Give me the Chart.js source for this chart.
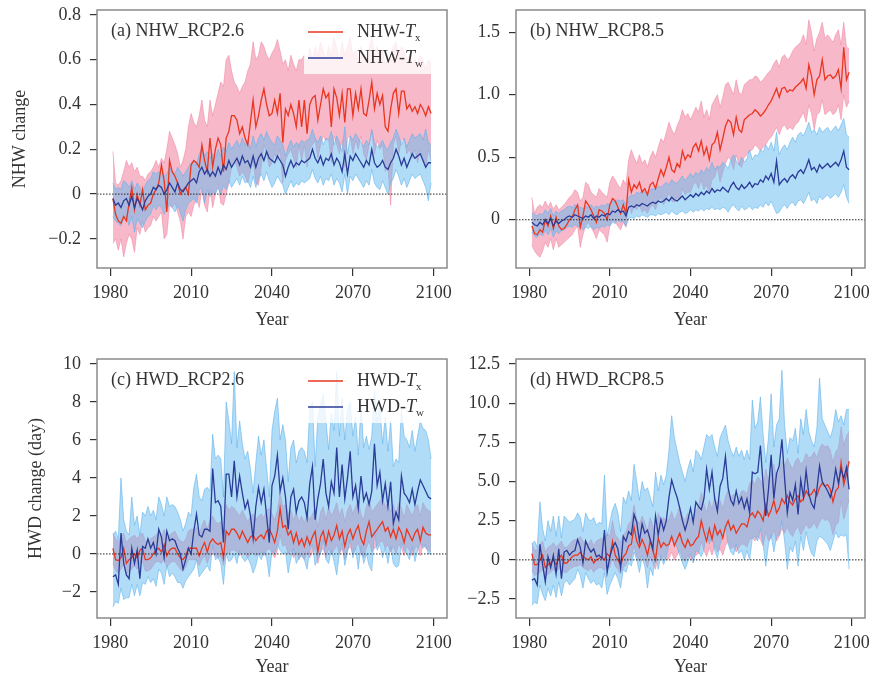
<!DOCTYPE html>
<html lang="en">
<head>
<meta charset="UTF-8" />
<title>NHW / HWD change</title>
<script src="https://cdn.jsdelivr.net/npm/chart.js@4.4.1/dist/chart.umd.min.js"></script>
<style>
  body { margin: 0; background: #fff; }
  #wrap { position: relative; width: 872px; height: 679px; overflow: hidden; }
  canvas { position: absolute; }
</style>
</head>
<body>
<div id="wrap">
  <canvas id="panelA" width="460" height="340" style="left:0;top:0"></canvas>
  <canvas id="panelB" width="422" height="340" style="left:450px;top:0"></canvas>
  <canvas id="panelC" width="460" height="340" style="left:0;top:340px"></canvas>
  <canvas id="panelD" width="422" height="340" style="left:450px;top:340px"></canvas>
</div>
<script>
// years 1981-2099
const years = Array.from({ length: 119 }, (_, i) => 1981 + i);
const xTicks = [1980, 2010, 2040, 2070, 2100];

// (a) NHW RCP2.6
const aTx = [
  -0.02,-0.09,-0.12,-0.13,-0.10,-0.12,-0.04,0.03,-0.07,0.00,
  -0.05,0.02,-0.07,-0.05,-0.04,0.00,0.02,0.05,0.13,0.06,
  -0.08,0.15,0.10,0.08,0.05,0.00,0.02,0.03,0.00,0.13,
  0.15,0.14,0.12,0.22,0.15,0.10,0.25,0.12,0.20,0.25,
  0.22,0.10,0.25,0.28,0.35,0.35,0.33,0.27,0.30,0.25,
  0.22,0.32,0.42,0.30,0.35,0.42,0.47,0.40,0.35,0.36,
  0.42,0.36,0.45,0.23,0.38,0.35,0.40,0.36,0.30,0.42,
  0.30,0.42,0.27,0.40,0.43,0.44,0.33,0.40,0.47,0.43,
  0.45,0.30,0.47,0.43,0.35,0.45,0.32,0.47,0.47,0.35,
  0.45,0.38,0.47,0.36,0.35,0.42,0.50,0.38,0.45,0.40,
  0.44,0.30,0.28,0.38,0.45,0.47,0.36,0.46,0.46,0.38,
  0.40,0.37,0.39,0.36,0.40,0.38,0.35,0.39,0.36];
const aTxHigh = [
  0.19,0.05,0.04,0.06,0.10,0.15,0.12,0.14,0.10,0.12,
  0.08,0.08,0.06,0.09,0.10,0.12,0.15,0.12,0.16,0.14,
  0.20,0.28,0.25,0.22,0.18,0.12,0.15,0.20,0.30,0.36,
  0.32,0.30,0.35,0.42,0.33,0.30,0.42,0.35,0.40,0.45,
  0.50,0.48,0.60,0.62,0.55,0.50,0.48,0.45,0.48,0.50,
  0.55,0.58,0.68,0.60,0.62,0.68,0.66,0.62,0.60,0.63,
  0.65,0.69,0.64,0.58,0.60,0.55,0.62,0.58,0.55,0.60,
  0.60,0.62,0.58,0.65,0.60,0.66,0.62,0.68,0.64,0.60,
  0.66,0.62,0.70,0.65,0.60,0.68,0.62,0.66,0.70,0.62,
  0.64,0.60,0.66,0.62,0.60,0.65,0.70,0.62,0.66,0.62,
  0.64,0.58,0.60,0.62,0.66,0.68,0.62,0.66,0.64,0.60,
  0.62,0.58,0.60,0.58,0.62,0.60,0.56,0.60,0.58];
const aTxLow = [
  -0.22,-0.20,-0.25,-0.20,-0.28,-0.22,-0.18,-0.20,-0.26,-0.15,
  -0.18,-0.12,-0.17,-0.15,-0.14,-0.10,-0.12,-0.10,-0.08,-0.20,
  -0.18,-0.05,-0.06,-0.04,-0.08,-0.12,-0.20,-0.10,-0.08,-0.10,
  -0.05,-0.02,-0.06,0.02,-0.05,-0.08,0.02,-0.06,0.00,0.05,
  -0.04,-0.05,0.00,0.05,0.12,0.15,0.12,0.08,0.10,0.08,
  0.05,0.10,0.15,0.05,0.04,0.12,0.22,0.18,0.12,0.14,
  0.18,0.15,0.20,0.05,0.15,0.18,0.20,0.16,0.12,0.22,
  0.15,0.22,0.12,0.20,0.22,0.24,0.16,0.22,0.26,0.24,
  0.25,0.14,0.26,0.22,0.18,0.24,0.12,0.25,0.26,0.18,
  0.24,0.20,0.26,0.18,0.15,0.22,0.28,0.18,0.24,0.20,
  0.22,0.10,0.12,-0.05,0.22,0.26,0.18,0.24,0.25,0.18,
  0.20,0.16,0.20,0.14,0.20,0.16,0.12,0.20,0.15];
const aTw = [
  -0.02,-0.05,-0.04,-0.06,-0.03,-0.02,-0.05,-0.01,-0.06,-0.02,
  -0.04,-0.07,-0.03,-0.01,0.00,0.03,0.02,0.04,0.03,0.00,
  0.02,0.05,0.03,0.01,0.05,0.02,0.01,0.03,0.05,0.06,
  0.07,0.05,0.10,0.12,0.09,0.11,0.08,0.10,0.08,0.12,
  0.09,0.13,0.11,0.15,0.12,0.14,0.16,0.13,0.17,0.14,
  0.15,0.12,0.17,0.12,0.16,0.18,0.15,0.19,0.16,0.15,
  0.14,0.17,0.15,0.13,0.08,0.12,0.15,0.12,0.14,0.13,
  0.15,0.14,0.15,0.16,0.20,0.16,0.14,0.17,0.13,0.16,
  0.15,0.18,0.13,0.16,0.14,0.10,0.18,0.09,0.17,0.15,
  0.18,0.16,0.14,0.12,0.15,0.13,0.20,0.14,0.12,0.13,
  0.15,0.12,0.11,0.14,0.16,0.20,0.17,0.13,0.16,0.12,
  0.15,0.18,0.16,0.17,0.18,0.15,0.12,0.14,0.14];
const aTwHigh = [
  0.05,0.02,0.03,0.02,0.06,0.05,0.03,0.06,0.02,0.05,
  0.03,0.01,0.04,0.06,0.07,0.10,0.09,0.10,0.10,0.08,
  0.09,0.12,0.10,0.09,0.12,0.10,0.08,0.10,0.12,0.14,
  0.15,0.13,0.18,0.20,0.17,0.19,0.16,0.18,0.16,0.20,
  0.17,0.21,0.19,0.23,0.20,0.22,0.24,0.21,0.25,0.22,
  0.24,0.20,0.26,0.21,0.25,0.27,0.24,0.28,0.25,0.23,
  0.22,0.26,0.24,0.22,0.17,0.21,0.24,0.21,0.23,0.22,
  0.24,0.23,0.24,0.25,0.29,0.25,0.23,0.26,0.22,0.25,
  0.24,0.28,0.22,0.26,0.23,0.19,0.30,0.18,0.26,0.24,
  0.27,0.25,0.23,0.21,0.24,0.22,0.29,0.23,0.21,0.22,
  0.24,0.21,0.20,0.23,0.25,0.29,0.26,0.22,0.25,0.21,
  0.24,0.27,0.25,0.26,0.27,0.24,0.29,0.23,0.22];
const aTwLow = [
  -0.10,-0.12,-0.13,-0.14,-0.11,-0.10,-0.14,-0.10,-0.17,-0.11,
  -0.13,-0.15,-0.12,-0.10,-0.09,-0.05,-0.07,-0.05,-0.06,-0.09,
  -0.07,-0.04,-0.06,-0.08,-0.05,-0.08,-0.12,-0.07,-0.04,-0.03,
  -0.02,-0.04,0.02,0.03,-0.04,0.02,-0.01,0.01,0.00,0.03,
  0.00,0.04,0.02,0.06,0.03,0.05,0.07,0.04,0.08,0.05,
  0.06,0.03,0.08,0.03,0.07,0.09,0.06,0.10,0.06,0.03,
  0.05,0.08,0.06,0.04,0.00,0.03,0.06,0.03,0.05,0.04,
  0.06,0.05,0.06,0.07,0.11,0.07,0.05,0.08,0.04,0.07,
  0.06,0.09,0.04,0.07,0.05,0.01,0.09,0.00,0.08,0.06,
  0.09,0.07,0.05,0.03,0.06,0.04,0.11,0.05,0.03,0.02,
  0.06,0.03,0.00,0.05,0.07,0.11,0.08,0.04,0.07,0.03,
  0.06,0.09,0.07,0.08,0.09,0.06,0.03,-0.03,0.05];

// (b) NHW RCP8.5
const bTx = [
  -0.05,-0.11,-0.12,-0.08,-0.10,0.00,-0.05,0.03,-0.07,0.02,
  -0.05,-0.08,-0.07,-0.04,0.00,0.02,0.08,0.12,-0.06,0.03,
  0.15,0.12,0.08,0.03,-0.02,0.08,0.07,0.05,0.00,0.12,
  0.17,0.15,0.10,0.05,0.12,0.05,0.32,0.22,0.28,0.25,
  0.30,0.22,0.25,0.20,0.28,0.30,0.25,0.33,0.40,0.35,
  0.42,0.50,0.40,0.38,0.45,0.42,0.55,0.48,0.52,0.50,
  0.58,0.61,0.55,0.63,0.52,0.58,0.48,0.60,0.62,0.70,
  0.56,0.65,0.75,0.80,0.78,0.68,0.82,0.72,0.70,0.80,
  0.82,0.84,0.85,0.88,0.86,0.83,0.85,0.88,0.92,0.95,
  1.00,1.05,0.98,1.05,1.06,1.02,1.04,1.03,1.06,1.08,
  1.10,1.13,1.05,1.24,1.15,1.00,1.12,1.15,1.28,1.12,
  1.15,1.16,1.13,1.15,1.20,1.05,1.38,1.12,1.18];
const bTxHigh = [
  0.18,0.05,0.10,0.12,0.10,0.15,0.10,0.14,0.08,0.12,
  0.08,0.10,0.12,0.15,0.18,0.20,0.24,0.22,0.15,0.18,
  0.30,0.28,0.22,0.20,0.18,0.25,0.22,0.20,0.18,0.30,
  0.35,0.32,0.28,0.25,0.32,0.28,0.48,0.56,0.50,0.45,
  0.52,0.45,0.48,0.42,0.50,0.55,0.50,0.58,0.65,0.62,
  0.70,0.78,0.72,0.68,0.75,0.80,0.88,0.82,0.85,0.80,
  0.85,0.90,0.86,0.95,0.82,0.88,0.80,0.92,0.96,1.00,
  0.90,0.98,1.08,1.10,1.05,1.00,1.12,1.02,1.00,1.08,
  1.10,1.12,1.12,1.15,1.14,1.10,1.12,1.15,1.18,1.20,
  1.25,1.28,1.22,1.30,1.32,1.28,1.30,1.35,1.38,1.40,
  1.42,1.48,1.40,1.60,1.50,1.35,1.45,1.50,1.58,1.45,
  1.48,1.45,1.42,1.48,1.52,1.40,1.58,1.38,1.37];
const bTxLow = [
  -0.20,-0.25,-0.28,-0.30,-0.25,-0.18,-0.22,-0.15,-0.24,-0.15,
  -0.22,-0.20,-0.18,-0.16,-0.14,-0.12,-0.08,-0.05,-0.22,-0.12,
  -0.05,-0.02,-0.06,-0.10,-0.15,-0.08,-0.10,-0.12,-0.18,-0.05,
  0.00,-0.02,-0.05,-0.08,-0.02,-0.06,0.15,0.05,0.10,0.08,
  0.12,0.06,0.08,0.05,0.10,0.12,0.08,0.15,0.18,0.12,
  0.16,0.22,0.15,0.14,0.18,0.16,0.25,0.20,0.22,0.22,
  0.28,0.30,0.25,0.32,0.24,0.28,0.22,0.32,0.34,0.42,
  0.30,0.38,0.45,0.50,0.48,0.40,0.52,0.44,0.42,0.50,
  0.52,0.55,0.56,0.60,0.58,0.55,0.58,0.60,0.64,0.66,
  0.70,0.74,0.68,0.74,0.76,0.72,0.74,0.72,0.76,0.78,
  0.82,0.86,0.78,0.92,0.85,0.72,0.84,0.86,0.96,0.84,
  0.86,0.88,0.84,0.86,0.92,0.80,1.00,0.90,0.95];
const bTw = [
  -0.02,-0.04,-0.05,-0.02,-0.04,0.00,-0.03,0.01,-0.05,-0.01,
  -0.03,-0.01,0.00,0.02,0.03,0.02,0.04,0.03,0.02,0.01,
  0.03,0.02,0.04,0.01,0.03,0.02,0.04,0.03,0.05,0.04,
  0.07,0.06,0.08,0.06,0.07,0.03,0.10,0.11,0.10,0.12,
  0.11,0.13,0.12,0.11,0.13,0.14,0.13,0.15,0.14,0.15,
  0.17,0.15,0.18,0.16,0.15,0.17,0.19,0.16,0.18,0.20,
  0.18,0.21,0.19,0.22,0.20,0.23,0.21,0.25,0.22,0.24,
  0.23,0.26,0.24,0.22,0.27,0.30,0.26,0.24,0.28,0.25,
  0.27,0.30,0.26,0.29,0.28,0.32,0.30,0.35,0.32,0.37,
  0.30,0.47,0.28,0.31,0.33,0.30,0.34,0.36,0.33,0.38,
  0.40,0.37,0.42,0.48,0.40,0.42,0.38,0.44,0.41,0.43,
  0.45,0.42,0.44,0.46,0.43,0.48,0.55,0.42,0.40];
const bTwHigh = [
  0.06,0.04,0.03,0.05,0.04,0.08,0.05,0.09,0.03,0.07,
  0.05,0.07,0.08,0.10,0.11,0.10,0.12,0.11,0.10,0.09,
  0.11,0.10,0.12,0.09,0.11,0.10,0.12,0.11,0.13,0.12,
  0.15,0.14,0.16,0.15,0.16,0.12,0.18,0.20,0.19,0.22,
  0.21,0.23,0.22,0.21,0.24,0.25,0.24,0.27,0.26,0.28,
  0.30,0.28,0.32,0.30,0.29,0.32,0.35,0.31,0.34,0.37,
  0.34,0.38,0.36,0.40,0.37,0.42,0.39,0.46,0.40,0.43,
  0.42,0.46,0.44,0.41,0.48,0.52,0.47,0.44,0.50,0.46,
  0.49,0.56,0.48,0.52,0.51,0.56,0.54,0.60,0.56,0.62,
  0.55,0.70,0.52,0.57,0.60,0.56,0.62,0.66,0.62,0.68,
  0.70,0.67,0.72,0.78,0.70,0.72,0.68,0.74,0.70,0.72,
  0.74,0.70,0.72,0.75,0.71,0.76,0.81,0.68,0.66];
const bTwLow = [
  -0.10,-0.13,-0.14,-0.11,-0.13,-0.08,-0.12,-0.07,-0.14,-0.09,
  -0.11,-0.09,-0.08,-0.06,-0.05,-0.06,-0.04,-0.05,-0.06,-0.08,
  -0.06,-0.07,-0.05,-0.08,-0.06,-0.07,-0.05,-0.06,-0.04,-0.05,
  -0.02,-0.03,0.00,-0.02,-0.01,-0.05,0.01,0.02,0.01,0.03,
  0.02,0.04,0.03,0.02,0.04,0.04,0.03,0.05,0.04,0.05,
  0.06,0.04,0.07,0.05,0.04,0.06,0.07,0.05,0.06,0.08,
  0.06,0.08,0.07,0.09,0.07,0.09,0.08,0.10,0.08,0.09,
  0.08,0.10,0.09,0.06,0.10,0.12,0.09,0.07,0.11,0.08,
  0.09,0.11,0.08,0.10,0.09,0.12,0.10,0.14,0.11,0.15,
  0.10,0.05,0.06,0.10,0.12,0.09,0.13,0.14,0.11,0.15,
  0.16,0.13,0.17,0.22,0.15,0.17,0.13,0.19,0.16,0.18,
  0.20,0.17,0.19,0.21,0.18,0.22,0.28,0.18,0.13];

// (c) HWD RCP2.6
const cTx = [
  0.3,-0.3,-0.35,-0.2,0.3,-0.5,-0.3,-0.2,0.0,-0.2,
  0.2,0.3,-0.3,-0.3,-0.2,0.0,0.2,0.3,0.1,0.5,
  -0.1,0.2,0.3,0.3,0.0,-0.2,-0.3,-0.1,0.3,0.3,
  0.3,0.3,-0.1,0.3,0.6,0.1,0.6,0.8,0.6,0.5,
  0.6,-0.2,1.2,1.0,1.3,1.3,1.1,0.8,1.2,0.9,
  0.6,0.9,1.0,0.7,0.9,1.0,0.8,1.2,1.3,1.0,
  0.6,1.2,2.4,1.4,1.5,1.0,1.2,0.6,1.1,0.5,
  0.8,0.4,0.9,0.5,0.9,1.2,0.1,0.9,1.2,0.5,
  1.2,0.7,1.0,1.5,0.8,1.2,0.4,1.0,1.3,0.8,
  1.2,1.5,0.8,0.5,1.2,1.7,0.9,1.1,1.3,1.5,
  1.7,1.2,1.4,0.9,1.3,0.8,1.4,1.1,0.6,1.3,
  1.0,0.7,1.1,1.3,0.7,1.4,1.1,1.0,1.0];
const cTxHigh = [
  1.1,0.8,0.7,0.9,1.1,0.6,0.8,0.9,1.0,0.8,
  1.0,1.1,0.7,0.6,0.8,0.9,1.0,1.1,0.9,1.3,
  0.8,1.0,1.1,1.2,0.9,0.7,0.6,0.8,1.2,1.3,
  1.3,1.4,1.0,1.5,1.8,1.3,1.8,2.0,1.7,1.6,
  1.7,1.0,2.6,2.3,2.5,2.4,2.2,2.0,2.3,2.0,
  1.7,2.0,2.1,1.8,2.0,2.1,1.9,2.3,2.4,2.1,
  1.8,2.3,3.2,2.5,2.6,2.1,2.3,1.8,2.2,1.7,
  2.0,1.6,2.1,1.8,2.1,2.4,1.4,2.2,2.5,1.8,
  2.5,2.0,2.3,2.7,2.0,2.4,1.7,2.3,2.6,2.1,
  2.5,2.8,2.1,1.8,2.5,2.9,2.2,2.4,2.6,2.8,
  2.9,2.5,2.7,2.2,2.6,2.1,2.7,2.4,1.9,2.6,
  2.3,2.0,2.4,2.6,2.0,2.7,2.4,2.3,2.2];
const cTxLow = [
  -0.5,-0.9,-1.0,-0.8,-0.5,-1.1,-0.9,-0.8,-0.6,-0.8,
  -0.5,-0.4,-0.9,-0.9,-0.8,-0.6,-0.4,-0.4,-0.5,-0.2,
  -0.7,-0.5,-0.4,-0.4,-0.6,-0.8,-0.9,-0.7,-0.3,-0.3,
  -0.3,-0.3,-0.6,-0.3,-0.1,-0.5,-0.1,0.0,-0.1,-0.2,
  -0.1,-0.6,0.1,0.0,0.2,0.2,0.1,-0.1,0.1,0.0,
  -0.2,0.0,0.1,-0.1,0.0,0.1,-0.1,0.2,0.3,0.1,
  -0.2,0.2,1.0,0.4,0.5,0.0,0.2,-0.2,0.1,-0.3,
  0.0,-0.3,0.1,-0.2,0.1,0.3,-0.5,0.1,0.3,-0.2,
  0.3,0.0,0.2,0.5,0.0,0.3,-0.3,0.2,0.4,0.0,
  0.3,0.6,0.0,-0.2,0.3,0.7,0.1,0.3,0.4,0.6,
  0.7,0.3,0.5,0.1,0.4,0.0,0.5,0.3,-0.1,0.4,
  0.2,-0.1,0.3,0.4,-0.1,0.5,0.3,0.2,0.1];
const cTw = [
  -1.2,-1.1,-1.6,1.1,-0.5,-1.1,-1.3,0.3,-0.5,0.2,
  -1.3,0.4,0.3,0.8,0.3,0.6,0.0,1.3,0.9,-0.2,
  1.2,0.7,0.8,0.7,0.3,0.0,-0.8,-0.3,0.3,0.0,
  1.2,2.1,1.0,0.9,1.3,1.3,1.2,4.5,2.7,2.8,
  2.5,0.6,4.2,4.2,3.0,4.9,3.0,4.1,3.2,2.4,
  2.8,2.0,0.8,2.5,3.5,2.7,3.4,2.0,0.6,3.6,
  4.1,5.2,3.3,4.0,3.0,1.3,3.0,3.4,2.2,2.8,
  3.0,2.7,1.9,3.7,4.6,1.8,2.9,3.7,5.0,3.2,
  2.5,3.8,3.2,5.6,3.0,4.7,2.9,4.0,5.4,3.0,
  3.6,2.4,4.1,2.8,3.2,2.6,3.3,5.8,3.6,4.3,
  2.8,3.7,2.5,3.8,1.6,2.2,1.8,4.1,3.2,3.0,
  2.7,3.4,2.6,3.3,3.9,3.6,3.3,3.0,2.9];
const cTwHigh = [
  1.0,1.2,0.8,4.0,1.8,1.2,1.0,3.0,1.5,2.0,
  1.0,2.2,2.0,2.5,2.0,2.3,1.8,3.0,2.6,2.0,
  3.0,2.5,2.6,2.5,2.2,1.8,1.2,1.6,2.2,2.0,
  3.5,4.2,3.0,2.8,3.4,3.5,3.3,6.3,5.0,5.2,
  5.0,3.0,8.0,7.0,5.8,9.6,5.6,7.0,5.8,5.0,
  5.4,4.5,3.2,4.8,6.2,5.2,6.0,4.5,3.0,6.5,
  7.5,8.2,6.0,6.8,6.0,3.8,5.6,6.0,4.8,5.4,
  5.6,5.4,4.8,7.6,8.0,4.6,7.2,7.8,8.4,7.0,
  5.5,7.4,6.5,9.6,6.2,8.2,6.0,7.6,8.0,6.2,
  7.2,5.2,7.8,5.6,6.2,5.5,6.2,8.6,7.0,7.8,
  5.8,7.2,5.4,7.0,4.6,5.0,4.8,7.6,6.2,6.0,
  5.6,6.5,5.4,6.2,7.0,6.6,6.5,6.0,5.0];
const cTwLow = [
  -2.8,-2.5,-2.6,-1.8,-2.4,-2.3,-2.3,-1.6,-2.2,-1.6,
  -2.2,-1.5,-1.6,-1.2,-1.5,-1.3,-1.7,-0.8,-1.0,-1.6,
  -0.6,-1.2,-1.0,-1.2,-1.5,-1.5,-1.8,-1.4,-1.2,-1.0,
  -0.8,-0.3,-1.2,-1.0,-0.8,-0.6,-0.9,0.5,-0.3,-0.2,
  -0.5,-1.6,0.0,-0.4,-0.3,0.0,-0.5,0.2,-0.2,-0.4,
  -0.2,-0.5,-1.0,-0.6,0.0,-0.3,0.1,-0.2,-1.2,0.2,
  0.0,0.5,0.2,0.0,0.1,-1.0,-0.2,0.3,-0.5,-0.2,
  -0.1,-0.3,-0.8,0.2,0.5,-0.6,-0.2,0.0,0.8,-0.3,
  -0.5,0.2,-0.4,-1.1,0.0,0.6,-0.6,0.1,0.8,-0.2,
  0.3,-0.8,0.4,-0.5,0.0,-0.6,-0.9,1.2,0.2,0.5,
  -0.2,0.3,-0.5,0.4,-0.5,-0.7,-0.6,0.6,0.2,0.0,
  -0.3,0.4,-0.4,0.2,0.6,0.3,0.5,0.0,0.0];

// (d) HWD RCP8.5
const dTx = [
  0.4,-0.3,-0.3,0.0,0.3,-0.5,-0.3,-0.2,0.0,-0.3,
  0.1,0.3,-0.2,-0.2,0.0,0.2,0.3,0.3,0.5,0.2,
  0.1,0.0,0.2,-0.2,0.0,0.1,0.2,0.0,0.4,0.2,
  1.2,0.3,0.0,-0.3,0.2,0.4,0.9,1.0,2.1,1.2,
  0.8,1.3,0.9,0.3,1.2,0.6,0.0,1.4,0.8,1.1,
  0.9,1.0,1.5,0.9,1.3,1.7,1.1,0.8,1.3,0.9,
  1.0,1.3,1.5,2.5,1.8,1.2,2.0,1.3,2.2,1.6,
  1.9,1.4,2.1,2.5,1.9,2.2,1.7,2.0,2.3,2.3,
  2.1,2.8,3.0,2.7,3.1,2.9,2.5,3.5,2.8,3.2,
  3.8,3.0,3.3,3.9,3.6,4.1,3.7,3.5,3.9,4.1,
  3.7,3.9,4.4,4.1,4.2,4.5,4.1,4.6,4.9,4.7,
  4.8,4.5,3.7,4.4,4.6,6.2,4.8,5.5,6.3];
const dTxHigh = [
  1.1,0.6,0.7,1.0,1.2,0.5,0.8,0.9,1.1,0.8,
  1.0,1.2,0.8,0.8,1.0,1.2,1.3,1.3,1.5,1.2,
  1.1,1.0,1.3,0.9,1.2,1.3,1.4,1.2,1.7,1.5,
  2.5,1.6,1.4,1.1,1.6,1.8,2.3,2.5,3.5,2.6,
  2.3,2.8,2.4,1.8,2.7,2.2,1.6,3.0,2.4,2.7,
  2.5,2.6,3.1,2.5,2.9,3.4,2.8,2.5,3.0,2.6,
  2.8,3.1,3.4,4.3,3.6,3.0,3.8,3.2,4.1,3.5,
  3.8,3.3,4.0,4.5,3.9,4.2,3.7,4.0,4.4,4.4,
  4.2,4.9,5.1,4.8,5.3,5.1,4.7,5.8,5.0,5.5,
  6.1,5.3,5.6,6.3,6.0,6.5,6.1,5.8,6.3,6.5,
  6.1,6.3,6.8,6.5,6.6,6.9,6.5,7.1,7.4,7.2,
  7.3,7.0,6.2,6.9,7.1,8.5,7.3,7.9,8.2];
const dTxLow = [
  -0.7,-1.0,-0.9,-0.8,-0.6,-1.1,-0.9,-0.8,-0.6,-0.8,
  -0.6,-0.4,-0.8,-0.8,-0.6,-0.5,-0.4,-0.4,-0.3,-0.5,
  -0.6,-0.7,-0.5,-0.8,-0.6,-0.5,-0.5,-0.7,-0.3,-0.5,
  0.2,-0.4,-0.6,-0.9,-0.5,-0.3,0.0,0.1,0.9,0.2,
  -0.1,0.3,0.0,-0.5,0.2,-0.2,-0.6,0.4,0.0,0.2,
  0.0,0.1,0.5,0.0,0.3,0.6,0.1,-0.1,0.3,0.0,
  0.1,0.3,0.4,1.2,0.6,0.2,0.8,0.3,0.9,0.5,
  0.7,0.3,0.9,1.2,0.7,0.9,0.5,0.8,1.0,1.0,
  0.8,1.3,1.4,1.2,1.5,1.3,0.9,1.8,1.2,1.4,
  1.9,1.2,1.5,2.0,1.7,2.1,1.7,1.5,1.9,2.1,
  1.6,1.9,2.3,2.0,2.1,2.4,2.0,2.4,2.7,2.5,
  2.6,2.3,1.6,2.2,2.4,3.8,2.6,3.2,3.8];
const dTw = [
  -1.3,-1.2,-1.6,1.0,-0.3,-1.4,0.2,-0.5,0.3,-0.9,
  0.7,-1.2,0.5,0.6,0.3,0.5,0.6,1.3,0.8,-0.2,
  1.2,0.8,0.5,0.7,0.2,0.3,0.1,1.9,-0.8,0.2,
  0.8,1.1,0.7,-0.5,1.5,1.2,1.8,1.6,2.9,2.4,
  1.2,2.3,1.7,1.9,1.3,0.7,2.8,1.6,2.6,1.9,
  2.5,4.0,5.1,4.5,4.0,3.3,2.5,1.9,2.5,3.3,
  2.4,3.7,3.4,3.2,3.9,5.8,4.5,5.6,3.9,3.1,
  4.7,5.2,6.6,4.6,3.8,3.5,4.4,3.6,4.0,3.3,
  3.9,3.0,5.6,5.5,5.6,7.3,4.8,2.8,4.5,6.7,
  3.9,5.5,6.0,7.7,5.2,3.0,4.3,3.8,4.8,2.9,
  5.1,4.0,5.7,4.2,3.6,3.3,4.5,6.0,5.0,4.7,
  4.4,4.0,4.6,5.8,4.9,5.8,5.2,5.9,4.5];
const dTwHigh = [
  1.0,1.2,0.8,3.7,2.0,1.2,2.5,1.8,2.8,1.5,
  2.8,1.4,2.8,2.6,2.4,2.5,2.6,3.0,2.7,1.8,
  3.0,2.6,2.5,2.7,2.2,2.4,2.3,5.4,1.5,2.4,
  3.2,3.6,3.0,1.8,4.0,3.6,4.4,3.8,6.1,5.0,
  3.8,5.0,4.4,4.6,4.0,3.4,5.6,4.4,5.4,4.8,
  5.4,7.0,9.2,7.8,7.0,6.2,5.6,5.0,5.8,6.4,
  5.6,7.0,6.8,6.4,7.2,8.0,7.8,8.0,7.2,6.6,
  7.8,8.2,8.6,7.6,7.0,6.6,7.2,6.6,7.0,6.4,
  7.0,6.4,10.2,8.4,8.8,10.4,8.0,6.2,7.8,10.6,
  7.2,8.6,9.0,12.1,8.6,6.8,7.8,7.6,8.4,6.8,
  9.0,8.0,9.6,8.2,7.6,7.2,8.4,11.6,9.0,8.6,
  8.2,7.8,8.4,9.6,8.8,9.2,8.6,9.6,9.6];
const dTwLow = [
  -2.9,-2.7,-2.8,-1.6,-2.2,-2.6,-1.8,-2.3,-1.6,-2.4,
  -1.4,-2.3,-1.5,-1.3,-1.6,-1.4,-1.2,-0.6,-1.0,-1.8,
  -0.8,-1.2,-1.5,-1.3,-1.6,-1.5,-1.8,-0.8,-2.2,-1.6,
  -1.2,-0.8,-1.2,-1.8,-0.6,-0.8,-0.2,-0.4,0.5,0.0,
  -0.8,0.2,-0.4,-1.8,-0.5,-1.0,0.4,-0.6,0.3,-0.3,
  0.2,1.0,1.5,1.2,0.8,0.3,-0.2,-0.6,-0.1,0.4,
  -0.2,0.6,0.5,0.2,0.7,1.8,1.0,1.6,0.6,0.1,
  1.0,1.5,2.2,1.0,0.5,0.3,1.0,0.4,0.6,0.0,
  0.6,0.0,1.4,1.5,1.2,2.0,1.0,-0.4,1.0,1.6,
  0.5,1.5,1.6,2.5,1.2,-0.6,0.8,0.5,1.2,-0.4,
  1.5,0.6,1.8,1.0,0.4,0.2,1.2,1.5,1.4,1.2,
  1.0,0.6,1.2,1.8,1.4,1.6,1.5,1.6,-0.6];

// y ticks and labels
const aYTicks = [-0.2, 0, 0.2, 0.4, 0.6, 0.8];
const aYLabels = ['\u22120.2', '0', '0.2', '0.4', '0.6', '0.8'];
const bYTicks = [0, 0.5, 1.0, 1.5];
const bYLabels = ['0', '0.5', '1.0', '1.5'];
const cYTicks = [-2, 0, 2, 4, 6, 8, 10];
const cYLabels = ['\u22122', '0', '2', '4', '6', '8', '10'];
const dYTicks = [-2.5, 0, 2.5, 5, 7.5, 10, 12.5];
const dYLabels = ['\u22122.5', '0', '2.5', '5.0', '7.5', '10.0', '12.5'];

const FONT = "'Liberation Serif', 'Times New Roman', serif";
const TEXT = '#333';
const RED = '#e8361f';
const BLUE = '#2a3b98';
const PINK_FILL = 'rgba(240,128,158,0.55)';
const PINK_EDGE = 'rgba(240,128,158,0.65)';
const SKY_FILL = 'rgba(100,185,240,0.5)';
const SKY_EDGE = 'rgba(90,175,235,0.7)';

Chart.defaults.font.family = FONT;
Chart.defaults.font.size = 18;
Chart.defaults.color = TEXT;

// frame, dotted zero line, panel title and legend
const decoPlugin = {
  id: 'deco',
  afterDatasetsDraw(chart, args, o) {
    const { ctx, chartArea: a, scales: { y } } = chart;
    ctx.save();
    const y0 = y.getPixelForValue(0);
    ctx.strokeStyle = '#222';
    ctx.lineWidth = 1;
    ctx.setLineDash([1.5, 1.5]);
    ctx.beginPath();
    ctx.moveTo(a.left, y0);
    ctx.lineTo(a.right, y0);
    ctx.stroke();
    ctx.setLineDash([]);

    if (o.legend) {
      ctx.fillStyle = 'rgba(255,255,255,0.8)';
      ctx.fillRect(a.left + 207, a.top + 2, a.right - a.left - 210, 62);
      o.legend.forEach((it, i) => {
        const ly = a.top + 22 + i * 26;
        ctx.strokeStyle = it.color;
        ctx.lineWidth = 1.6;
        ctx.beginPath();
        ctx.moveTo(a.left + 211, ly);
        ctx.lineTo(a.left + 246, ly);
        ctx.stroke();
        ctx.fillStyle = TEXT;
        ctx.textBaseline = 'middle';
        let tx = a.left + 260;
        ctx.font = '18px ' + FONT;
        ctx.fillText(it.text, tx, ly);
        tx += ctx.measureText(it.text).width;
        ctx.font = 'italic 18px ' + FONT;
        ctx.fillText('T', tx, ly);
        tx += ctx.measureText('T').width;
        ctx.font = '11px ' + FONT;
        ctx.fillText(it.sub, tx, ly + 6);
      });
    }

    ctx.strokeStyle = '#8a8a8a';
    ctx.lineWidth = 1.5;
    ctx.strokeRect(a.left, a.top, a.right - a.left, a.bottom - a.top);

    ctx.fillStyle = TEXT;
    ctx.font = '18px ' + FONT;
    ctx.textBaseline = 'middle';
    ctx.fillText(o.title, a.left + 14, a.top + 21);
    ctx.restore();
  }
};

function band(values, fill, edge, target, order) {
  return {
    data: values, borderColor: edge, borderWidth: 0.8, backgroundColor: fill,
    fill: target, pointRadius: 0, tension: 0, order: order
  };
}

function line(values, color, order) {
  return {
    data: values, borderColor: color, borderWidth: 1.3, fill: false,
    pointRadius: 0, tension: 0, order: order
  };
}

function makePanel(id, p) {
  return new Chart(document.getElementById(id), {
    type: 'line',
    data: {
      labels: years,
      datasets: [
        band(p.txHigh, PINK_FILL, PINK_EDGE, '+1', 4),
        band(p.txLow, PINK_FILL, PINK_EDGE, false, 4),
        band(p.twHigh, SKY_FILL, SKY_EDGE, '+1', 3),
        band(p.twLow, SKY_FILL, SKY_EDGE, false, 3),
        line(p.tx, RED, 2),
        line(p.tw, BLUE, 1)
      ]
    },
    plugins: [decoPlugin],
    options: {
      responsive: false,
      animation: false,
      events: [],
      layout: { autoPadding: false, padding: p.pad },
      plugins: {
        legend: { display: false },
        tooltip: { enabled: false },
        deco: { title: p.title, legend: p.legend }
      },
      scales: {
        x: {
          type: 'linear', min: 1975.1, max: 2104.9,
          afterBuildTicks: s => { s.ticks = xTicks.map(v => ({ value: v })); },
          afterFit: s => { s.height = p.xAxisH; s.paddingLeft = 0; s.paddingRight = 0; },
          ticks: { callback: v => String(v), padding: 6, maxRotation: 0, autoSkip: false, color: TEXT },
          grid: { drawOnChartArea: false, drawTicks: true, tickLength: 8, color: '#333', lineWidth: 1.2 },
          border: { display: false },
          title: { display: true, text: 'Year', padding: 0, color: TEXT }
        },
        y: {
          min: p.yMin, max: p.yMax,
          afterBuildTicks: s => { s.ticks = p.yTicks.map(v => ({ value: v })); },
          afterFit: s => { s.width = p.yAxisW; s.paddingTop = 0; s.paddingBottom = 0; },
          ticks: { callback: (v, i) => p.yLabels[i], padding: 9, autoSkip: false, color: TEXT },
          grid: { drawOnChartArea: false, drawTicks: true, tickLength: 7, color: '#333', lineWidth: 1.2 },
          border: { display: false },
          title: { display: !!p.yTitle, text: p.yTitle || '', padding: 0, color: TEXT }
        }
      }
    }
  });
}

makePanel('panelA', {
  title: '(a) NHW_RCP2.6',
  tx: aTx, txHigh: aTxHigh, txLow: aTxLow, tw: aTw, twHigh: aTwHigh, twLow: aTwLow,
  yMin: -0.33, yMax: 0.822, yTicks: aYTicks, yLabels: aYLabels, yTitle: 'NHW change',
  pad: { left: 9, top: 10, right: 13, bottom: 9 }, yAxisW: 88, xAxisH: 63,
  legend: [{ text: 'NHW-', sub: 'x', color: RED }, { text: 'NHW-', sub: 'w', color: BLUE }]
});
makePanel('panelB', {
  title: '(b) NHW_RCP8.5',
  tx: bTx, txHigh: bTxHigh, txLow: bTxLow, tw: bTw, twHigh: bTwHigh, twLow: bTwLow,
  yMin: -0.386, yMax: 1.678, yTicks: bYTicks, yLabels: bYLabels, yTitle: null,
  pad: { left: 0, top: 10, right: 7, bottom: 9 }, yAxisW: 66, xAxisH: 63,
  legend: null
});
makePanel('panelC', {
  title: '(c) HWD_RCP2.6',
  tx: cTx, txHigh: cTxHigh, txLow: cTxLow, tw: cTw, twHigh: cTwHigh, twLow: cTwLow,
  yMin: -3.37, yMax: 10.26, yTicks: cYTicks, yLabels: cYLabels, yTitle: 'HWD change (day)',
  pad: { left: 25, top: 19, right: 13, bottom: 2 }, yAxisW: 72, xAxisH: 60,
  legend: [{ text: 'HWD-', sub: 'x', color: RED }, { text: 'HWD-', sub: 'w', color: BLUE }]
});
makePanel('panelD', {
  title: '(d) HWD_RCP8.5',
  tx: dTx, txHigh: dTxHigh, txLow: dTxLow, tw: dTw, twHigh: dTwHigh, twLow: dTwLow,
  yMin: -3.71, yMax: 12.82, yTicks: dYTicks, yLabels: dYLabels, yTitle: null,
  pad: { left: 0, top: 19, right: 7, bottom: 2 }, yAxisW: 66, xAxisH: 60,
  legend: null
});
</script>
</body>
</html>
